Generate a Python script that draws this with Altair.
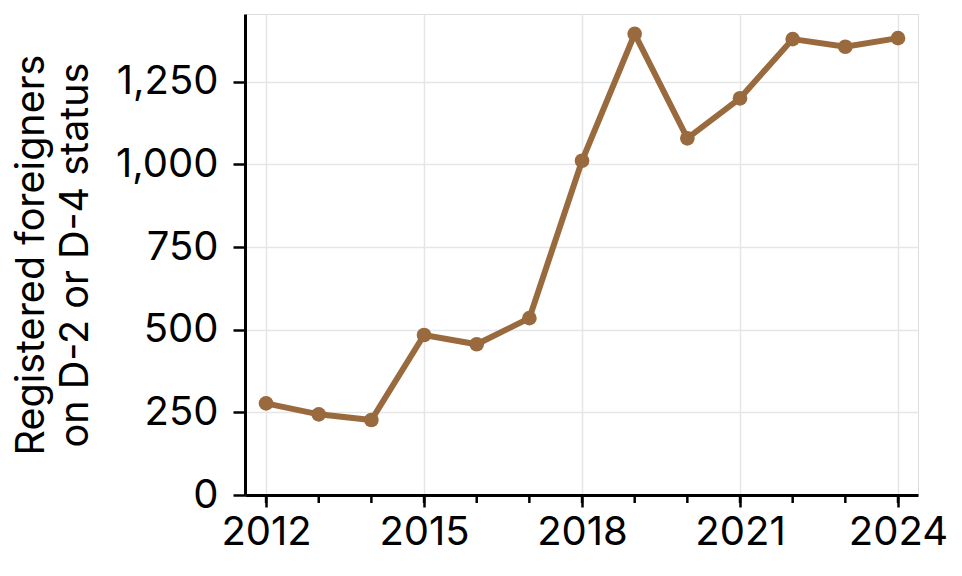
import altair as alt
import pandas as pd

years = [2012, 2013, 2014, 2015, 2016, 2017, 2018, 2019, 2020, 2021, 2022, 2023, 2024]
values = [277, 244, 227, 484, 456, 535, 1011, 1395, 1079, 1200, 1379, 1356, 1382]
major_years = [2012, 2015, 2018, 2021, 2024]
y_ticks = [0, 250, 500, 750, 1000, 1250]
y_title = ["Registered foreigners", "on D-2 or D-4 status"]

df = pd.DataFrame({"year": years, "value": values})
minor = pd.DataFrame({"year": years})

FONT = "Inter"
COLOR = "#996A3D"
W, H = 673, 481

xscale = alt.Scale(domain=[2011.6, 2024.38], nice=False, zero=False)
yscale = alt.Scale(domain=[0, 1455], nice=False)

xaxis = alt.Axis(values=major_years, format="d", title=None, tickSize=12, tickWidth=2.5,
                 tickColor="black", domainColor="black", domainWidth=3,
                 labelFont=FONT, labelFontSize=40, labelColor="black", labelPadding=5,
                 grid=True, gridColor="#e6e6e6", gridWidth=1.5, labelFlush=False)
yaxis = alt.Axis(values=y_ticks, format=",d", title=y_title, tickSize=12, tickWidth=2.5,
                 tickColor="black", domainColor="black", domainWidth=3,
                 labelFont=FONT, labelFontSize=40, labelColor="black", labelPadding=15,
                 titleFont=FONT, titleFontSize=39.5, titleFontWeight="normal", titleColor="black",
                 titleLineHeight=44, titlePadding=20,
                 grid=True, gridColor="#e6e6e6", gridWidth=1.5)

line = alt.Chart(df).mark_line(color=COLOR, strokeWidth=6).encode(
    x=alt.X("year:Q", scale=xscale, axis=xaxis),
    y=alt.Y("value:Q", scale=yscale, axis=yaxis),
)
pts = alt.Chart(df).mark_point(filled=True, color=COLOR, size=215, opacity=1).encode(
    x=alt.X("year:Q", scale=xscale),
    y=alt.Y("value:Q", scale=yscale),
)
minor_ticks = alt.Chart(minor).mark_rule(color="black", strokeWidth=2.5).encode(
    x=alt.X("year:Q", scale=xscale),
    y=alt.value(H),
    y2=alt.value(H + 8),
)

chart = alt.layer(minor_ticks, line, pts).properties(
    width=W, height=H,
    autosize=alt.AutoSizeParams(type="none"),
    padding={"left": 237, "top": 6, "right": 36, "bottom": 73},
).configure_view(stroke=None).configure(background="white")

chart.save("out.html", embed_options={"renderer": "svg", "actions": False})
